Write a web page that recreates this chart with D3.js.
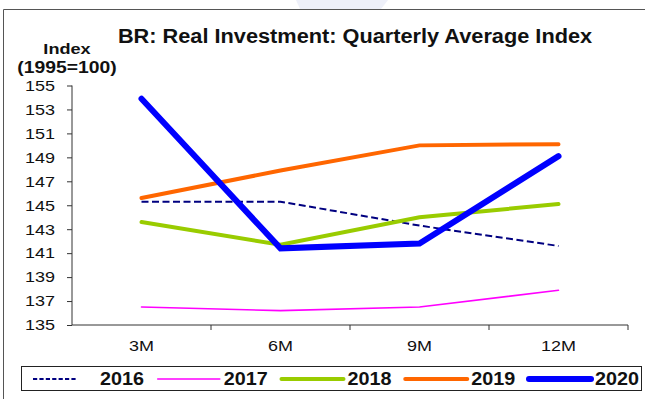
<!DOCTYPE html>
<html>
<head>
<meta charset="utf-8">
<script src="https://cdn.jsdelivr.net/npm/d3@7"></script>
<style>
  html, body { margin: 0; padding: 0; background: #fff; }
  svg { display: block; font-family: Arial, "Liberation Sans", sans-serif; }
</style>
</head>
<body>
<svg id="chart" width="645" height="399"></svg>
<script>
// Quarterly average index of real investment in Brazil (1995 = 100)
const periods = ["3M", "6M", "9M", "12M"];
const years = ["2016", "2017", "2018", "2019", "2020"];
const v2016 = [145.3, 145.3, 143.3, 141.6];
const v2017 = [136.5, 136.2, 136.5, 137.9];
const v2018 = [143.6, 141.7, 144.0, 145.1];
const v2019 = [145.6, 147.9, 150.0, 150.1];
const v2020 = [153.9, 141.4, 141.8, 149.1];
const yTicks = [135, 137, 139, 141, 143, 145, 147, 149, 151, 153, 155];

const seriesValues = [v2016, v2017, v2018, v2019, v2020];
const seriesStyle = [
  { color: "#000080", width: 2, dash: "7,3.5", legendDash: "4.2,2.2" },
  { color: "#ff00ff", width: 1.6, dash: null },
  { color: "#99cc00", width: 4, dash: null },
  { color: "#ff6600", width: 4, dash: null },
  { color: "#0000ff", width: 6, dash: null }
];

const FONT = "Arial, 'Liberation Sans', sans-serif";
const svg = d3.select("#chart");
const plot = { left: 72, right: 628, top: 85.5, bottom: 325 };

// text with a slightly widened face
function wideText(x0, y0, sx, size, weight, anchor, str) {
  return svg.append("text")
    .attr("transform", `translate(${x0},${y0}) scale(${sx},1)`)
    .attr("text-anchor", anchor)
    .attr("font-size", size)
    .attr("font-weight", weight)
    .attr("font-family", FONT)
    .attr("fill", "#111")
    .text(str);
}

// faint backdrop shape at the top edge
svg.append("path")
  .attr("d", "M296,0 L388,0 L381,9 L300,9 Z")
  .attr("fill", "#eef0f9");

// frame lines
svg.append("line").attr("x1", 3.5).attr("x2", 645).attr("y1", 9.5).attr("y2", 9.5)
  .attr("stroke", "#555").attr("stroke-width", 1);
svg.append("line").attr("x1", 3.5).attr("x2", 3.5).attr("y1", 9.5).attr("y2", 399)
  .attr("stroke", "#555").attr("stroke-width", 1);

const x = d3.scaleBand().domain(periods).range([plot.left, plot.right]).padding(0);
const y = d3.scaleLinear().domain([135, 155]).range([plot.bottom, plot.top]);

// y axis
const yAxis = svg.append("g")
  .attr("transform", `translate(${plot.left},0)`)
  .call(d3.axisLeft(y).tickValues(yTicks).tickSize(5).tickPadding(4).tickFormat(d3.format("d")));
yAxis.select(".domain").attr("stroke", "#333").attr("d", `M0,${plot.top}V${plot.bottom}`);
yAxis.selectAll(".tick line").attr("stroke", "#333");
yAxis.selectAll("text")
  .attr("font-size", 15).attr("fill", "#111").attr("font-family", FONT)
  .attr("transform", "scale(1.2,1)")
  .attr("x", -17 / 1.2);

// x axis with ticks on band boundaries
const xAxis = svg.append("g")
  .attr("transform", `translate(0,${plot.bottom})`)
  .call(d3.axisBottom(x).tickSize(0).tickPadding(15.5));
xAxis.select(".domain").attr("stroke", "#333").attr("d", `M${plot.left},0H${plot.right}`);
xAxis.selectAll("text")
  .attr("font-size", 14.5).attr("fill", "#111").attr("font-family", FONT)
  .attr("transform", "scale(1.24,1)");
xAxis.selectAll(".boundary")
  .data(periods)
  .enter().append("line")
  .attr("x1", d => x(d) + x.bandwidth()).attr("x2", d => x(d) + x.bandwidth())
  .attr("y1", 0).attr("y2", 5)
  .attr("stroke", "#333");

// series lines
const line = d3.line()
  .x((d, i) => x(periods[i]) + x.bandwidth() / 2)
  .y(d => y(d));

seriesValues.forEach((vals, k) => {
  const s = seriesStyle[k];
  svg.append("path")
    .datum(vals)
    .attr("d", line)
    .attr("fill", "none")
    .attr("stroke", s.color)
    .attr("stroke-width", s.width)
    .attr("stroke-linejoin", "miter")
    .attr("stroke-linecap", s.dash ? "butt" : "round")
    .attr("stroke-dasharray", s.dash);
});

// titles
wideText(355, 43.3, 1.115, 19.5, "bold", "middle", "BR: Real Investment: Quarterly Average Index");
wideText(67, 54, 1.21, 15, "bold", "middle", "Index");
wideText(67, 72.5, 1.21, 16, "bold", "middle", "(1995=100)");

// legend
svg.append("rect").attr("x", 21.5).attr("y", 366.5).attr("width", 620).attr("height", 24)
  .attr("fill", "#fff").attr("stroke", "#222").attr("stroke-width", 1);
const legendX = d3.scalePoint().domain(years).range([32, 527]);
years.forEach((yr, k) => {
  const s = seriesStyle[k];
  const x0 = legendX(yr);
  svg.append("line")
    .attr("x1", x0 + (s.dash ? 1 : 2)).attr("x2", x0 + (s.dash ? 45 : 64))
    .attr("y1", 379).attr("y2", 379)
    .attr("stroke", s.color).attr("stroke-width", s.width)
    .attr("stroke-linecap", s.dash ? "butt" : "round")
    .attr("stroke-dasharray", s.legendDash || null);
  wideText(x0 + 68, 385, 1.13, 17.5, "bold", "start", yr);
});
</script>
</body>
</html>
